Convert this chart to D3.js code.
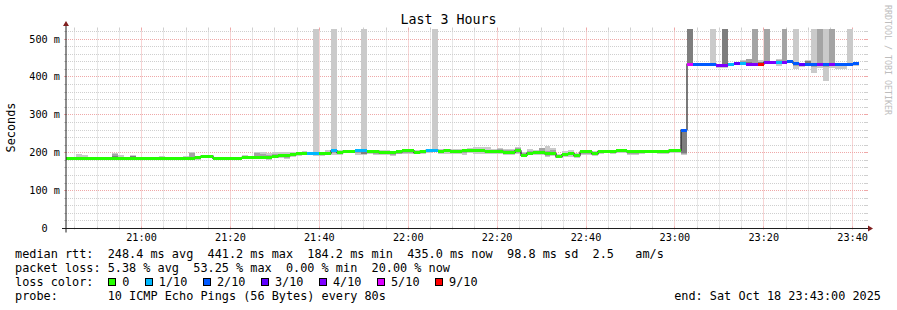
<!DOCTYPE html>
<html><head><meta charset="utf-8">
<script src="https://cdn.jsdelivr.net/npm/d3@7"></script>
<style>
body{margin:0;background:#fff}
svg{display:block}
text{font-family:"DejaVu Sans Mono",monospace;fill:#000}
</style></head><body>
<svg id="c" width="897" height="310"></svg>
<script>
// ---------------- data ----------------
const chartTitle = "Last 3 Hours";
const yAxisTitle = "Seconds";
const watermark = "RRDTOOL / TOBI OETIKER";
const startTime = new Date(2025, 9, 18, 20, 43, 0);
const endTime = new Date(2025, 9, 18, 23, 43, 0);
const firstStep = new Date(2025, 9, 18, 20, 42, 40);
const stepSeconds = 80;
const yMax = 528;                       // graph ceiling (ms)
const yTicks = [0, 100, 200, 300, 400, 500];

// median RTT per 80 s step (ms)
const medianRtt = [
 184,184,184,184,184,184,184,186,186,186,
 186,186,186,186,186,186,186,186,186,186,
 186,186,188,191,191,185,185,185,185,185,
 188,188,188,188,188,189,192,192,195,198,
 199,198,197,197,199,205,200,204,204,205,
 205,204,204,200,201,201,202,205,205,200,
 204,206,206,204,207,204,204,205,205,206,
 205,203,203,204,201,201,205,193,199,200,
 200,197,198,189,195,198,192,202,202,197,
 204,204,202,205,205,202,202,204,204,204,
 202,202,207,207,260,434,434,434,434,434,
 431,431,434,435,435,434,434,434,439,439,
 439,439,440,436,434,434,433,434,434,434,
 434,434,434,435];
// lost pings out of 10 per step
const lostPings = [
 0,0,0,0,0,0,0,0,0,0, 0,0,0,0,0,0,0,0,0,0,
 0,0,0,0,0,0,0,0,0,0, 0,0,0,0,0,0,0,0,0,0,
 0,1,1,0,0,1,0,0,0,1, 1,0,0,0,0,0,0,0,0,0,
 0,1,1,0,0,0,0,0,0,0, 0,0,0,0,0,0,0,0,0,0,
 0,0,0,0,0,0,0,0,0,0, 0,0,0,0,0,0,0,0,0,0,
 0,0,0,0,2,5,2,2,2,2, 4,4,1,3,1,4,4,9,4,4,
 1,4,2,2,3,2,2,4,2,4, 2,2,2,2];
// number of highest pings at/above the graph ceiling
const clippedPings = [
 0,0,0,0,0,0,0,0,0,0, 0,0,0,0,0,0,0,0,0,0,
 0,0,0,0,0,0,0,0,0,0, 0,0,0,0,0,0,0,0,0,0,
 0,0,1,0,0,1,0,0,0,0, 1,0,0,0,0,0,0,0,0,0,
 0,0,1,0,0,0,0,0,0,0, 0,0,0,0,0,0,0,0,0,0,
 0,0,0,0,0,0,0,0,0,0, 0,0,0,0,0,0,0,0,0,0,
 0,0,0,0,0,3,0,0,0,1, 0,3,0,0,0,0,2,0,2,0,
 0,2,0,1,0,0,1,2,1,2, 0,0,1,0];
// smoke: spread of ping ranks around the median (ms)
const outerAbove = [
 2,2,12,9,2,6,2,2,14,8, 2,7,2,2,2,2,5,2,2,2,
 6,17,4,3,4,2,2,2,5,2, 7,3,15,15,12,13,9,10,8,5,
 6,5,0,6,8,0,7,4,3,4, 0,4,3,8,6,4,5,3,4,8,
 4,3,0,5,3,6,5,4,7,8, 11,11,6,8,8,9,10,10,12,8,
 12,20,14,8,9,8,7,4,6,7, 4,3,5,4,3,5,6,4,3,3,
 6,5,3,2,2,0,2,2,3,0, 4,0,3,4,10,14,0,10,0,3,
 9,0,3,0,3,10,0,0,0,0, 4,4,0,2];
const outerBelow = [
 2,2,2,2,2,2,2,2,2,2, 2,2,2,2,2,2,2,2,2,2,
 2,2,6,6,5,2,2,2,2,2, 4,4,4,5,6,4,6,8,5,6,
 5,4,6,5,4,10,6,5,4,10, 12,8,9,5,8,10,6,9,8,4,
 8,6,5,7,10,6,8,10,6,8, 7,6,5,8,6,6,9,5,6,5,
 6,8,6,4,5,8,5,9,7,6, 6,5,4,6,5,9,7,6,5,4,
 5,5,8,8,66,5,6,5,6,4, 7,6,5,3,4,3,5,3,6,5,
 9,6,4,15,8,3,22,10,44,10, 13,12,6,5];
const midAbove = [
 1,1,6,4,1,3,1,1,10,4, 1,5,1,1,1,1,2,1,1,1,
 3,14,2,2,2,1,1,1,2,1, 3,2,12,10,6,8,5,6,4,4,
 4,3,3,4,4,3,4,2,2,2, 2,2,2,5,3,2,3,2,2,4,
 2,2,2,3,2,3,3,2,4,3, 5,5,3,6,5,5,8,6,6,4,
 12,8,8,5,5,4,4,2,3,4, 2,2,3,2,2,3,3,2,2,2,
 3,3,2,1,1,0,1,1,2,0, 2,0,2,2,6,14,0,6,0,2,
 5,0,2,0,2,8,0,0,0,0, 2,2,0,1];
const midBelow = [
 1,1,1,1,1,1,1,1,1,1, 1,1,1,1,1,1,1,1,1,1,
 1,1,4,4,3,1,1,1,1,1, 2,2,2,3,4,3,3,5,3,4,
 3,2,4,3,2,6,4,3,2,6, 9,5,6,4,5,6,4,6,5,2,
 5,4,3,4,6,4,5,6,4,5, 4,4,3,5,4,4,5,3,4,3,
 4,5,4,2,3,5,3,6,4,4, 4,3,3,4,3,6,4,4,3,2,
 3,3,5,5,63,4,4,3,5,3, 5,4,3,2,3,2,3,2,4,3,
 5,4,3,8,6,2,6,6,8,6, 6,6,4,4];
const coreAbove = [
 0,0,1,1,0,1,0,0,6,1, 0,6,0,0,0,0,1,0,0,0,
 1,3,1,1,1,0,0,0,1,0, 1,1,4,3,2,2,2,2,2,4,
 4,2,2,2,3,1,2,1,1,1, 1,1,1,2,1,1,1,1,1,2,
 1,1,1,2,1,2,2,1,2,1, 2,2,1,1,2,2,3,2,2,1,
 2,3,2,2,2,2,2,1,1,3, 1,1,2,1,1,2,3,1,1,1,
 1,2,1,1,1,0,1,1,1,0, 1,0,1,1,2,6,0,6,0,1,
 2,0,1,0,1,8,0,0,0,0, 1,1,0,1];
const coreBelow = [
 0,0,0,0,0,0,0,0,0,0, 0,0,0,0,0,0,0,0,0,0,
 0,0,3,4,2,0,0,0,0,0, 1,1,1,3,3,4,2,3,2,2,
 2,1,2,2,2,3,2,2,1,3, 8,3,3,4,3,3,2,3,3,1,
 3,2,2,2,3,2,3,3,2,3, 2,2,2,3,3,2,3,2,2,3,
 2,3,2,1,3,2,2,3,2,2, 2,2,3,2,2,3,2,2,2,1,
 2,2,2,2,60,2,2,2,3,2, 3,2,2,1,2,1,2,1,2,2,
 3,2,2,4,4,1,3,4,4,4, 3,3,2,2];

// loss colour classes (minimum lost pings, label, colour)
const lossMin    = [0, 1, 2, 3, 4, 5, 9];
const lossLabels = ["0", "1/10", "2/10", "3/10", "4/10", "5/10", "9/10"];
const lossColors = ["#26ff00", "#00b8ff", "#0059ff", "#5e00ff", "#7e00ff", "#dd00ff", "#ff0000"];

const legendRtt   = "median rtt:  248.4 ms avg  441.2 ms max  184.2 ms min  435.0 ms now  98.8 ms sd  2.5   am/s";
const legendLoss  = "packet loss: 5.38 % avg  53.25 % max  0.00 % min  20.00 % now";
const legendColor = "loss color:";
const legendProbe = "probe:       10 ICMP Echo Pings (56 Bytes) every 80s";
const legendEnd   = "end: Sat Oct 18 23:43:00 2025";

// ---------------- drawing ----------------
const svg = d3.select("#c");
const L = 66, R = 866, T = 28.5, B = 228.5;
const x = d3.scaleTime().domain([startTime, endTime]).range([L, R]);
const y = d3.scaleLinear().domain([0, yMax]).range([B, T]);
const cw = 7.135; // legend char advance

svg.append("rect").attr("width", 897).attr("height", 310).attr("fill", "#fff");
svg.append("defs").append("clipPath").attr("id", "plot")
  .append("rect").attr("x", L).attr("y", T).attr("width", R - L).attr("height", B - T);

const gGrid = svg.append("g");
const minorCol = "#cfcfcf", majorCol = "#efa8a8";
// horizontal grid
d3.range(20, yMax, 20).forEach(v => {
  const yy = Math.floor(y(v)) + 0.5;
  const major = v % 100 === 0;
  gGrid.append("line").attr("x1", L).attr("x2", R).attr("y1", yy).attr("y2", yy)
    .attr("stroke", major ? majorCol : minorCol).attr("stroke-dasharray", "1,1");
  gGrid.append("line").attr("x1", L - 2).attr("x2", L + 1).attr("y1", yy).attr("y2", yy)
    .attr("stroke", major ? majorCol : minorCol);
  gGrid.append("line").attr("x1", R - 1).attr("x2", R + 2).attr("y1", yy).attr("y2", yy)
    .attr("stroke", major ? majorCol : minorCol);
});
// vertical grid
const minorTimes = d3.timeMinute.every(5).range(startTime, endTime);
minorTimes.forEach(t => {
  const xx = Math.floor(x(t)) + 0.5;
  const major = t.getMinutes() % 20 === 0;
  gGrid.append("line").attr("x1", xx).attr("x2", xx).attr("y1", T).attr("y2", B)
    .attr("stroke", major ? majorCol : minorCol).attr("stroke-dasharray", "1,1");
  gGrid.append("line").attr("x1", xx).attr("x2", xx).attr("y1", B - 2).attr("y2", B + 1)
    .attr("stroke", major ? majorCol : minorCol);
  gGrid.append("line").attr("x1", xx).attr("x2", xx).attr("y1", T - 1).attr("y2", T + 2)
    .attr("stroke", major ? majorCol : minorCol);
});

// data
const stepTime = i => new Date(firstStep.getTime() + i * stepSeconds * 1000);
const steps = medianRtt.map((m, i) => ({
  i, m, t0: stepTime(i), t1: stepTime(i + 1),
  loss: lostPings[i], clip: clippedPings[i]
}));
const gData = svg.append("g").attr("clip-path", "url(#plot)");
function band(fill, loF, hiF) {
  gData.append("g").selectAll("rect").data(steps).join("rect")
    .attr("x", d => Math.round(x(d.t0)))
    .attr("width", d => Math.round(x(d.t1)) - Math.round(x(d.t0)))
    .attr("y", d => Math.round(y(Math.min(yMax, hiF(d)))))
    .attr("height", d => Math.max(0, Math.round(y(loF(d))) - Math.round(y(Math.min(yMax, hiF(d))))))
    .attr("fill", fill);
}
band("#cacaca", d => d.m - outerBelow[d.i], d => d.clip >= 1 ? yMax : d.m + outerAbove[d.i]);
band("#a4a4a4", d => d.m - midBelow[d.i],   d => d.clip >= 2 ? yMax : d.m + midAbove[d.i]);
band("#7e7e7e", d => d.m - coreBelow[d.i],  d => d.clip >= 3 ? yMax : d.m + coreAbove[d.i]);

const linePts = steps.map(d => [Math.round(x(d.t0)), y(d.m)]);
const last = steps[steps.length - 1];
linePts.push([Math.round(x(last.t1)), y(last.m)]);
gData.append("path").attr("d", d3.line().curve(d3.curveStepAfter)(linePts))
  .attr("fill", "none").attr("stroke", "#202020").attr("stroke-width", 1.2);

function lossColor(n) {
  let c = lossColors[0];
  lossMin.forEach((m, k) => { if (n >= m) c = lossColors[k]; });
  return c;
}
gData.append("g").selectAll("rect").data(steps).join("rect")
  .attr("x", d => Math.round(x(d.t0)))
  .attr("width", d => Math.round(x(d.t1)) - Math.round(x(d.t0)))
  .attr("y", d => Math.round(y(d.m) - 1.5))
  .attr("height", 3)
  .attr("fill", d => lossColor(d.loss));

// axes
const axisCol = "#1f1f1f", arrowCol = "#801f1f";
svg.append("line").attr("x1", L - 4).attr("x2", R + 4).attr("y1", B).attr("y2", B)
  .attr("stroke", axisCol);
svg.append("line").attr("x1", L).attr("x2", L).attr("y1", B + 4).attr("y2", T - 4.5)
  .attr("stroke", axisCol);
svg.append("path").attr("d", `M${R + 2},${B - 3}L${R + 2},${B + 3}L${R + 7},${B}Z`).attr("fill", arrowCol);
svg.append("path").attr("d", `M${L - 3},${T - 2.5}L${L + 3},${T - 2.5}L${L},${T - 7.5}Z`).attr("fill", arrowCol);

// axis labels
const gx = svg.append("g");
x.ticks(d3.timeMinute.every(20)).forEach(t => {
  gx.append("text").attr("x", x(t)).attr("y", 241).attr("text-anchor", "middle")
    .attr("font-size", "10.2px").text(d3.timeFormat("%H:%M")(t));
});
const gy = svg.append("g");
yTicks.forEach(v => {
  gy.append("text").attr("x", 60).attr("y", Math.floor(y(v)) + 4)
    .attr("text-anchor", "end").attr("font-size", "10.2px")
    .attr("xml:space", "preserve").style("white-space", "pre")
    .text(v === 0 ? "0  " : v + " m");
});

svg.append("text").attr("x", 448.5).attr("y", 24).attr("text-anchor", "middle")
  .attr("font-size", "13.3px").text(chartTitle);
svg.append("text").attr("transform", "translate(15,127.5) rotate(-90)")
  .attr("text-anchor", "middle").attr("font-size", "11.85px").text(yAxisTitle);
svg.append("text").attr("transform", "translate(885,5) rotate(90)")
  .attr("font-size", "8.3px").style("fill", "#bdbdbd").text(watermark);

// legend
const lg = svg.append("g").attr("font-size", "11.85px");
function row(str, yy, xx, anchor) {
  lg.append("text").attr("x", xx).attr("y", yy).attr("text-anchor", anchor)
    .attr("xml:space", "preserve").style("white-space", "pre").text(str);
}
row(legendRtt, 258, 15, "start");
row(legendLoss, 272, 15, "start");
row(legendColor, 286, 15, "start");
row(legendProbe, 300, 15, "start");
row(legendEnd, 300, 881, "end");

let bx = 108.3;
lossLabels.forEach((lab, k) => {
  lg.append("rect").attr("x", Math.round(bx) + 0.5).attr("y", 278.5)
    .attr("width", 7).attr("height", 7).attr("fill", lossColors[k]).attr("stroke", "#000");
  const lx = bx + 14.7 - 0.8;
  lg.append("text").attr("x", lx).attr("y", 286).text(lab);
  bx = bx + 14.7 + lab.length * cw + 14.8;
});
</script>
</body></html>
